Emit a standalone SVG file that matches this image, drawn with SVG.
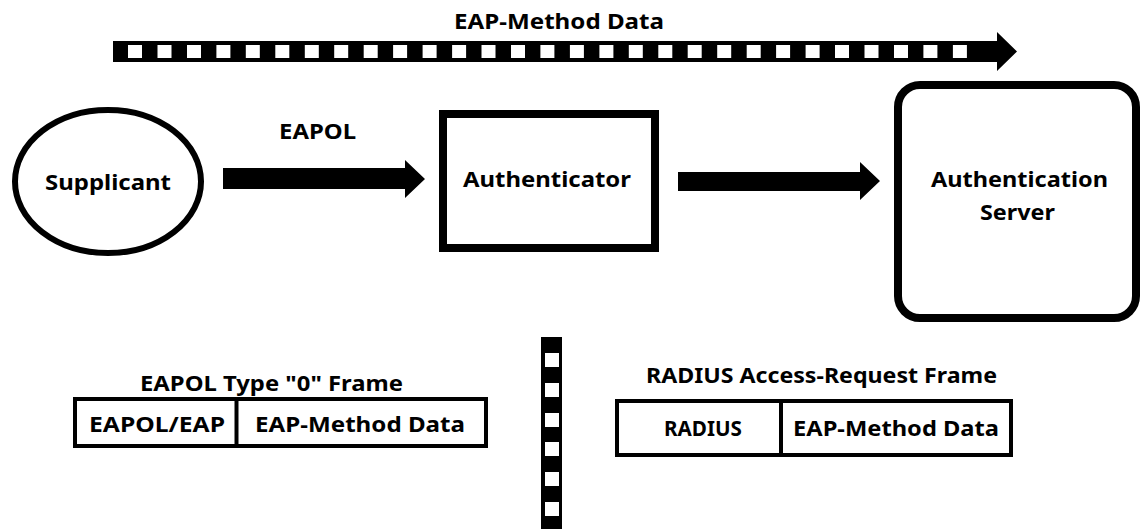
<svg xmlns="http://www.w3.org/2000/svg" width="1142" height="529" viewBox="0 0 1142 529">
<style>
text{font-family:"Noto Sans","DejaVu Sans",sans-serif;font-weight:bold;font-size:22px;fill:#000;text-anchor:middle}
.sq{fill:#fff}
.box{fill:#fff;stroke:#000}
</style>
<rect width="1142" height="529" fill="#fff"/>
<g id="connectors">
<g id="eap-method-arrow">
<polygon points="113,41 997,41 997,32 1017,51.5 997,71 997,62 113,62" fill="#000"/>
<g class="sq">
<rect x="128" y="45" width="14" height="13"/><rect x="157.5" y="45" width="14" height="13"/><rect x="187" y="45" width="14" height="13"/><rect x="216.4" y="45" width="14" height="13"/><rect x="245.8" y="45" width="14" height="13"/><rect x="275.3" y="45" width="14" height="13"/><rect x="304.8" y="45" width="14" height="13"/><rect x="334.2" y="45" width="14" height="13"/><rect x="363.7" y="45" width="14" height="13"/><rect x="393.1" y="45" width="14" height="13"/><rect x="422.6" y="45" width="14" height="13"/><rect x="452.1" y="45" width="14" height="13"/><rect x="481.5" y="45" width="14" height="13"/><rect x="511" y="45" width="14" height="13"/><rect x="540.4" y="45" width="14" height="13"/><rect x="569.9" y="45" width="14" height="13"/><rect x="599.4" y="45" width="14" height="13"/><rect x="628.8" y="45" width="14" height="13"/><rect x="658.3" y="45" width="14" height="13"/><rect x="687.7" y="45" width="14" height="13"/><rect x="717.2" y="45" width="14" height="13"/><rect x="746.7" y="45" width="14" height="13"/><rect x="776.1" y="45" width="14" height="13"/><rect x="805.6" y="45" width="14" height="13"/><rect x="835" y="45" width="14" height="13"/><rect x="864.5" y="45" width="14" height="13"/><rect x="894" y="45" width="14" height="13"/><rect x="923.4" y="45" width="14" height="13"/><rect x="952.9" y="45" width="14" height="13"/>
</g>
<text x="559" y="29" textLength="210" lengthAdjust="spacingAndGlyphs">EAP-Method Data</text>
</g>
<g id="eapol-arrow">
<polygon points="223,168 405,168 405,160 425,179 405,198 405,189 223,189" fill="#000"/>
<text x="317.5" y="139" textLength="77" lengthAdjust="spacingAndGlyphs">EAPOL</text>
</g>
<g id="radius-arrow">
<polygon points="678,172 860,172 860,162 880,181 860,200 860,191 678,191" fill="#000"/>
</g>
<g id="separator">
<rect x="541" y="337" width="21" height="192" fill="#000"/>
<g class="sq">
<rect x="545" y="353" width="14" height="14"/><rect x="545" y="383" width="14" height="14"/><rect x="545" y="413" width="14" height="14"/><rect x="545" y="442" width="14" height="14"/><rect x="545" y="472" width="14" height="14"/><rect x="545" y="502" width="14" height="14"/>
</g>
</g>
</g>
<g id="supplicant">
<ellipse class="box" cx="108" cy="181.5" rx="93" ry="71.5" stroke-width="6"/>
<text x="108" y="190" textLength="126" lengthAdjust="spacingAndGlyphs">Supplicant</text>
</g>
<g id="authenticator">
<rect class="box" x="443" y="114" width="212" height="134" stroke-width="8"/>
<text x="547" y="187" textLength="168" lengthAdjust="spacingAndGlyphs">Authenticator</text>
</g>
<g id="auth-server">
<rect class="box" x="898" y="85" width="238" height="233" rx="22" ry="22" stroke-width="8"/>
<text x="1019.5" y="187" textLength="177" lengthAdjust="spacingAndGlyphs">Authentication</text>
<text x="1017.5" y="220" textLength="75" lengthAdjust="spacingAndGlyphs">Server</text>
</g>
<g id="eapol-frame">
<text x="271.5" y="391" textLength="263" lengthAdjust="spacingAndGlyphs">EAPOL Type "0" Frame</text>
<rect class="box" x="75" y="399" width="411" height="47" stroke-width="4"/>
<line x1="236.5" y1="399" x2="236.5" y2="446" stroke="#000" stroke-width="4"/>
<text x="157" y="432" textLength="136" lengthAdjust="spacingAndGlyphs">EAPOL/EAP</text>
<text x="360" y="432" textLength="210" lengthAdjust="spacingAndGlyphs">EAP-Method Data</text>
</g>
<g id="radius-frame">
<text x="821.5" y="383" textLength="351" lengthAdjust="spacingAndGlyphs">RADIUS Access-Request Frame</text>
<rect class="box" x="617" y="401" width="394" height="54" stroke-width="4"/>
<line x1="781" y1="401" x2="781" y2="455" stroke="#000" stroke-width="4"/>
<text x="703" y="436" textLength="78" lengthAdjust="spacingAndGlyphs">RADIUS</text>
<text x="896" y="436" textLength="206" lengthAdjust="spacingAndGlyphs">EAP-Method Data</text>
</g>
</svg>
